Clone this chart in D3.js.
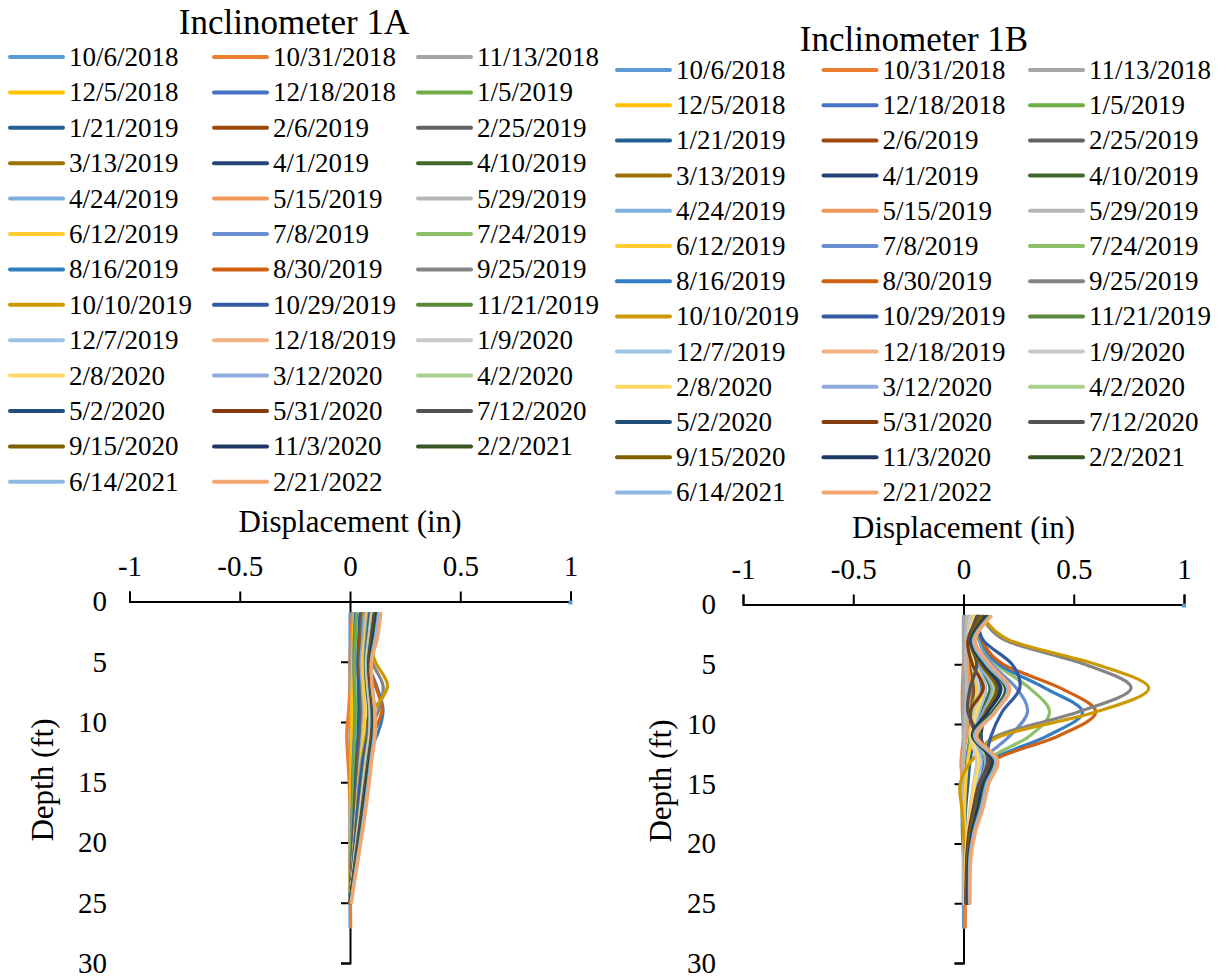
<!DOCTYPE html>
<html>
<head>
<meta charset="utf-8">
<script src="https://cdn.jsdelivr.net/npm/d3@7"></script>
<style>
  html, body { margin: 0; padding: 0; background: #ffffff; }
  svg { display: block; }
</style>
</head>
<body>
<svg id="chart" width="1229" height="979"></svg>
<script>
// Survey dates (legend order = drawing order)
const surveyDates = [
  "10/6/2018", "10/31/2018", "11/13/2018", "12/5/2018", "12/18/2018", "1/5/2019",
  "1/21/2019", "2/6/2019", "2/25/2019", "3/13/2019", "4/1/2019", "4/10/2019",
  "4/24/2019", "5/15/2019", "5/29/2019", "6/12/2019", "7/8/2019", "7/24/2019",
  "8/16/2019", "8/30/2019", "9/25/2019", "10/10/2019", "10/29/2019", "11/21/2019",
  "12/7/2019", "12/18/2019", "1/9/2020", "2/8/2020", "3/12/2020", "4/2/2020",
  "5/2/2020", "5/31/2020", "7/12/2020", "9/15/2020", "11/3/2020", "2/2/2021",
  "6/14/2021", "2/21/2022"
];

// Office-style series colours
const palette = [
  "#5B9BD5", "#ED7D31", "#A5A5A5", "#FFC000", "#4472C4", "#70AD47",
  "#255E91", "#9E480E", "#636363", "#997300", "#264478", "#43682B",
  "#7CAFDD", "#F1975A", "#B7B7B7", "#FFCD33", "#698ED0", "#8CC168",
  "#327DC2", "#D26012", "#848484", "#CC9A00", "#335AA1", "#5A8A39",
  "#9DC3E6", "#F4B183", "#C9C9C9", "#FFD966", "#8FAADC", "#A9D18E",
  "#1F4E79", "#843C0C", "#525252", "#7F6000", "#203864", "#385723",
  "#8DB8E2", "#F4A672"
];

// Reading depths (ft); only the first two surveys reach 27 ft
const depthFt = [1, 3, 5, 7, 9, 11, 13, 15, 17, 19, 21, 23, 25, 27];

// Cumulative displacement (in) per survey, Inclinometer 1A
const inclinometer1A = [
  [0, 0, 0, 0, 0, 0, 0, 0, 0, 0, 0, 0, 0, 0],
  [0.01, 0.005, 0, 0, -0.006, -0.015, -0.01, -0.004, 0, 0, 0, 0, 0.002, 0.003],
  [0.015, 0.01, 0.008, 0.005, 0.005, 0.003, 0.002, 0.003, 0.002, 0.002, 0.001, 0.001, 0],
  [0.02, 0.015, 0.012, 0.01, 0.008, 0.008, 0.006, 0.005, 0.004, 0.003, 0.002, 0.001, 0],
  [0.025, 0.02, 0.018, 0.02, 0.022, 0.02, 0.015, 0.012, 0.01, 0.007, 0.005, 0.003, 0],
  [0.03, 0.025, 0.02, 0.022, 0.025, 0.022, 0.018, 0.015, 0.012, 0.009, 0.006, 0.003, 0],
  [0.045, 0.04, 0.035, 0.038, 0.04, 0.037, 0.03, 0.025, 0.02, 0.015, 0.01, 0.005, 0],
  [0.05, 0.045, 0.04, 0.05, 0.06, 0.048, 0.035, 0.03, 0.024, 0.018, 0.012, 0.006, 0],
  [0.055, 0.05, 0.045, 0.05, 0.052, 0.047, 0.038, 0.032, 0.026, 0.02, 0.013, 0.007, 0],
  [0.06, 0.055, 0.06, 0.085, 0.09, 0.062, 0.045, 0.036, 0.028, 0.021, 0.014, 0.007, 0],
  [0.07, 0.06, 0.05, 0.055, 0.06, 0.055, 0.045, 0.038, 0.03, 0.022, 0.015, 0.008, 0],
  [0.072, 0.062, 0.052, 0.058, 0.066, 0.058, 0.047, 0.039, 0.031, 0.023, 0.016, 0.008, 0],
  [0.065, 0.058, 0.05, 0.055, 0.06, 0.055, 0.046, 0.038, 0.03, 0.022, 0.015, 0.008, 0],
  [0.075, 0.065, 0.055, 0.06, 0.065, 0.06, 0.05, 0.04, 0.032, 0.024, 0.016, 0.008, 0],
  [0.075, 0.066, 0.056, 0.06, 0.066, 0.061, 0.05, 0.041, 0.032, 0.024, 0.016, 0.008, 0],
  [0.078, 0.068, 0.058, 0.062, 0.068, 0.062, 0.051, 0.041, 0.033, 0.025, 0.017, 0.009, 0],
  [0.085, 0.075, 0.07, 0.09, 0.1, 0.078, 0.055, 0.043, 0.034, 0.026, 0.017, 0.009, 0],
  [0.088, 0.078, 0.072, 0.095, 0.105, 0.082, 0.057, 0.044, 0.035, 0.026, 0.018, 0.009, 0],
  [0.09, 0.08, 0.08, 0.12, 0.15, 0.125, 0.072, 0.05, 0.038, 0.028, 0.019, 0.01, 0],
  [0.092, 0.082, 0.08, 0.115, 0.145, 0.105, 0.065, 0.048, 0.037, 0.028, 0.019, 0.01, 0],
  [0.095, 0.085, 0.1, 0.15, 0.13, 0.085, 0.06, 0.046, 0.036, 0.027, 0.018, 0.009, 0],
  [0.1, 0.085, 0.115, 0.17, 0.11, 0.075, 0.058, 0.045, 0.035, 0.026, 0.018, 0.009, 0],
  [0.09, 0.08, 0.07, 0.075, 0.085, 0.08, 0.06, 0.046, 0.036, 0.027, 0.018, 0.009, 0],
  [0.095, 0.083, 0.072, 0.078, 0.088, 0.085, 0.07, 0.058, 0.046, 0.034, 0.022, 0.011, 0],
  [0.098, 0.085, 0.074, 0.08, 0.09, 0.088, 0.073, 0.06, 0.048, 0.035, 0.023, 0.012, 0],
  [0.1, 0.088, 0.076, 0.082, 0.092, 0.09, 0.075, 0.062, 0.05, 0.037, 0.024, 0.012, 0],
  [0.1, 0.088, 0.076, 0.082, 0.093, 0.091, 0.076, 0.063, 0.05, 0.037, 0.024, 0.012, 0],
  [0.102, 0.09, 0.078, 0.084, 0.095, 0.093, 0.078, 0.064, 0.051, 0.038, 0.025, 0.013, 0],
  [0.105, 0.092, 0.08, 0.086, 0.097, 0.095, 0.08, 0.066, 0.053, 0.039, 0.026, 0.013, 0],
  [0.107, 0.094, 0.082, 0.088, 0.099, 0.097, 0.082, 0.068, 0.054, 0.04, 0.027, 0.014, 0],
  [0.11, 0.096, 0.084, 0.09, 0.1, 0.098, 0.084, 0.07, 0.056, 0.042, 0.028, 0.014, 0],
  [0.112, 0.098, 0.086, 0.092, 0.102, 0.1, 0.086, 0.072, 0.058, 0.043, 0.029, 0.015, 0],
  [0.115, 0.1, 0.088, 0.094, 0.104, 0.101, 0.087, 0.073, 0.059, 0.045, 0.03, 0.015, 0],
  [0.118, 0.103, 0.09, 0.096, 0.106, 0.103, 0.088, 0.075, 0.061, 0.047, 0.031, 0.016, 0],
  [0.12, 0.105, 0.092, 0.098, 0.108, 0.105, 0.09, 0.077, 0.063, 0.049, 0.033, 0.017, 0.002],
  [0.125, 0.11, 0.094, 0.1, 0.11, 0.107, 0.093, 0.08, 0.066, 0.051, 0.035, 0.018, 0.003],
  [0.13, 0.115, 0.096, 0.1, 0.112, 0.11, 0.096, 0.083, 0.069, 0.054, 0.037, 0.02, 0.004],
  [0.14, 0.125, 0.098, 0.1, 0.112, 0.115, 0.1, 0.088, 0.074, 0.058, 0.041, 0.023, 0.007]
];

// Cumulative displacement (in) per survey, Inclinometer 1B
const inclinometer1B = [
  [0, 0, 0, 0, 0, 0, 0, 0, 0, 0, 0, 0, 0, 0],
  [0.01, 0.005, 0, -0.005, -0.005, 0, -0.01, -0.005, 0, 0.002, 0.003, 0.005, 0.008, 0.008],
  [0, 0, 0.002, 0, 0, 0, 0, 0, 0, 0, 0, 0, 0],
  [0.02, 0.015, 0.02, 0.025, 0.02, 0.03, 0.01, -0.01, -0.005, 0, 0.005, 0.005, 0.005],
  [0.03, 0.02, 0.03, 0.04, 0.035, 0.03, 0.015, 0.005, -0.005, -0.005, 0, 0.003, 0.005],
  [0.04, 0.02, 0.035, 0.05, 0.04, 0.03, 0.02, 0.01, 0.005, 0, 0.002, 0.004, 0.005],
  [0.05, 0.03, 0.05, 0.08, 0.06, 0.05, 0.03, 0.02, 0.01, 0.005, 0.004, 0.004, 0.005],
  [0.06, 0.02, 0.025, 0.05, 0.02, 0.06, 0.09, 0.055, 0.035, 0.02, 0.012, 0.01, 0.01],
  [0.045, 0.035, 0.07, 0.04, 0.03, 0.06, 0.1, 0.07, 0.045, 0.025, 0.015, 0.012, 0.01],
  [0.06, 0.04, 0.06, 0.1, 0.07, 0.06, 0.09, 0.06, 0.04, 0.025, 0.015, 0.012, 0.01],
  [0.07, 0.05, 0.08, 0.13, 0.1, 0.08, 0.1, 0.065, 0.045, 0.028, 0.017, 0.012, 0.01],
  [0.07, 0.04, 0.07, 0.12, 0.08, 0.07, 0.09, 0.06, 0.04, 0.025, 0.015, 0.012, 0.01],
  [0.02, 0.01, 0.015, 0.02, 0.015, 0.01, 0, -0.005, 0, 0, 0.002, 0.003, 0.003],
  [0.03, 0.015, 0.02, 0.03, 0.02, 0.015, -0.01, -0.005, 0, 0.003, 0.004, 0.005, 0.005],
  [0.015, 0.01, 0.01, 0.015, 0.01, 0.005, 0, 0, 0, 0, 0, 0, 0],
  [0.04, 0.03, 0.04, 0.06, 0.05, 0.04, 0.02, 0.01, 0.005, 0.005, 0.005, 0.005, 0.005],
  [0.06, 0.07, 0.13, 0.24, 0.29, 0.21, 0.09, 0.07, 0.05, 0.03, 0.02, 0.015, 0.012],
  [0.06, 0.075, 0.15, 0.3, 0.39, 0.3, 0.11, 0.08, 0.055, 0.035, 0.022, 0.016, 0.012],
  [0.07, 0.08, 0.16, 0.37, 0.54, 0.38, 0.13, 0.085, 0.06, 0.037, 0.024, 0.017, 0.013],
  [0.07, 0.085, 0.18, 0.44, 0.6, 0.43, 0.14, 0.09, 0.062, 0.04, 0.025, 0.018, 0.014],
  [0.085, 0.19, 0.55, 0.76, 0.52, 0.15, 0.07, 0.05, 0.04, 0.028, 0.02, 0.015, 0.012],
  [0.09, 0.21, 0.6, 0.84, 0.6, 0.17, 0.04, -0.015, -0.008, 0, 0.005, 0.008, 0.01],
  [0.06, 0.09, 0.22, 0.255, 0.175, 0.125, 0.1, 0.075, 0.055, 0.035, 0.02, 0.015, 0.01],
  [0.08, 0.05, 0.09, 0.15, 0.1, 0.07, 0.12, 0.085, 0.06, 0.035, 0.02, 0.015, 0.012],
  [0.05, 0.03, 0.06, 0.1, 0.07, 0.04, 0.08, 0.06, 0.04, 0.025, 0.015, 0.01, 0.01],
  [0.09, 0.04, 0.08, 0.14, 0.1, 0.06, 0.12, 0.09, 0.065, 0.04, 0.025, 0.018, 0.015],
  [0.03, 0.02, 0.04, 0.07, 0.05, 0.03, 0.06, 0.045, 0.03, 0.02, 0.01, 0.008, 0.008],
  [0.05, 0.025, 0.05, 0.09, 0.06, 0.035, 0.07, 0.05, 0.035, 0.02, 0.012, 0.01, 0.01],
  [0.07, 0.035, 0.07, 0.13, 0.09, 0.05, 0.1, 0.075, 0.05, 0.03, 0.018, 0.014, 0.012],
  [0.075, 0.04, 0.08, 0.14, 0.1, 0.055, 0.11, 0.08, 0.055, 0.032, 0.02, 0.015, 0.012],
  [0.09, 0.04, 0.09, 0.16, 0.11, 0.05, 0.13, 0.09, 0.06, 0.035, 0.02, 0.016, 0.014],
  [0.07, 0.02, 0.04, 0.09, 0.03, 0.06, 0.12, 0.07, 0.045, 0.025, 0.015, 0.012, 0.01],
  [0.06, 0.03, 0.06, 0.03, 0.02, 0.07, 0.11, 0.075, 0.05, 0.03, 0.018, 0.014, 0.012],
  [0.08, 0.035, 0.08, 0.15, 0.1, 0.05, 0.13, 0.09, 0.06, 0.035, 0.02, 0.016, 0.014],
  [0.1, 0.035, 0.09, 0.17, 0.11, 0.04, 0.13, 0.09, 0.065, 0.04, 0.025, 0.02, 0.02],
  [0.11, 0.04, 0.1, 0.19, 0.13, 0.045, 0.14, 0.1, 0.075, 0.045, 0.028, 0.025, 0.025],
  [0.12, 0.045, 0.105, 0.2, 0.14, 0.05, 0.145, 0.105, 0.08, 0.048, 0.03, 0.027, 0.027],
  [0.125, 0.052, 0.12, 0.21, 0.145, 0.06, 0.155, 0.115, 0.09, 0.055, 0.035, 0.03, 0.03]
];

const displacementTicks = [-1, -0.5, 0, 0.5, 1];
const depthTicks = [0, 5, 10, 15, 20, 25, 30];

const SERIF = "'Liberation Serif', 'Times New Roman', Times, serif";
const svg = d3.select("#chart");

function label(sel, size) {
  return sel.style("font-family", SERIF).style("font-size", size + "px").style("fill", "#000");
}

function drawPanel(panel, series) {
  const g = svg.append("g");

  const x = d3.scaleLinear().domain([-1, 1]).range(panel.xRange);
  const y = d3.scaleLinear().domain([0, 30]).range(panel.yRange);

  // Title
  label(g.append("text"), 35)
    .attr("x", panel.titleX).attr("y", panel.titleY)
    .attr("text-anchor", "middle")
    .text(panel.title);

  // Legend, three columns
  const legend = g.append("g");
  surveyDates.forEach((d, i) => {
    const col = i % 3, row = Math.floor(i / 3);
    const lx = panel.legendX + col * panel.legendColStep;
    const ly = panel.legendY + row * panel.legendRowStep;
    legend.append("line")
      .attr("x1", lx).attr("x2", lx + 53)
      .attr("y1", ly).attr("y2", ly)
      .attr("stroke", palette[i]).attr("stroke-width", 4)
      .attr("stroke-linecap", "round");
    label(legend.append("text"), 27)
      .attr("x", lx + 59).attr("y", ly + 9)
      .text(d);
  });

  // Horizontal axis along the top (depth 0)
  const xAxis = d3.axisTop(x)
    .tickValues(displacementTicks)
    .tickFormat(d => String(d))
    .tickSizeInner(10).tickSizeOuter(10)
    .tickPadding(panel.xLabelPad);
  const gx = g.append("g")
    .attr("transform", `translate(0,${y(0)})`)
    .call(xAxis);
  label(gx.selectAll("text"), 29);
  gx.selectAll("path, line").attr("stroke", "#000").attr("stroke-width", 2);

  label(g.append("text"), 31)
    .attr("x", x(0)).attr("y", panel.xTitleY)
    .attr("text-anchor", "middle")
    .text("Displacement (in)");

  // Vertical depth axis at zero displacement, labels at the left edge
  const yAxis = d3.axisLeft(y)
    .tickValues(depthTicks)
    .tickSizeInner(9).tickSizeOuter(9)
    .tickPadding(x(0) - panel.yLabelRight - 9);
  const gy = g.append("g")
    .attr("transform", `translate(${x(0)},0)`)
    .call(yAxis);
  label(gy.selectAll("text"), 29);
  gy.selectAll("path, line").attr("stroke", "#000").attr("stroke-width", 2);

  label(g.append("text"), 31)
    .attr("transform", `translate(${panel.yTitleX},${panel.yTitleY}) rotate(-90)`)
    .attr("text-anchor", "middle")
    .text("Depth (ft)");

  // Survey profiles
  const line = d3.line()
    .x(d => x(d.disp))
    .y(d => y(d.depth))
    .curve(d3.curveCardinal.tension(0));

  const profiles = series.map((vals, i) => ({
    i,
    pts: vals.map((v, k) => ({ depth: depthFt[k], disp: v }))
  }));

  g.append("g")
    .selectAll("path")
    .data(profiles)
    .join("path")
    .attr("d", p => line(p.pts))
    .attr("fill", "none")
    .attr("stroke", p => palette[p.i])
    .attr("stroke-width", 3.2)
    .attr("stroke-linejoin", "round")
    .attr("stroke-linecap", "round");

  // Marker at the axis end for the first survey
  g.append("rect")
    .attr("x", x(1) - 2).attr("y", y(0) - 1)
    .attr("width", 4).attr("height", 4)
    .attr("fill", palette[0]);
}

drawPanel({
  title: "Inclinometer 1A", titleX: 294, titleY: 34,
  legendX: 10, legendY: 57, legendColStep: 204, legendRowStep: 35.4,
  xRange: [129.5, 570.5], yRange: [601.5, 963],
  xLabelPad: 16, xTitleY: 532,
  yLabelRight: 107, yTitleX: 53, yTitleY: 780
}, inclinometer1A);

drawPanel({
  title: "Inclinometer 1B", titleX: 914, titleY: 51,
  legendX: 617, legendY: 70, legendColStep: 206.5, legendRowStep: 35.2,
  xRange: [743, 1184], yRange: [604.5, 963],
  xLabelPad: 16, xTitleY: 538,
  yLabelRight: 716, yTitleX: 671, yTitleY: 781
}, inclinometer1B);
</script>
</body>
</html>
